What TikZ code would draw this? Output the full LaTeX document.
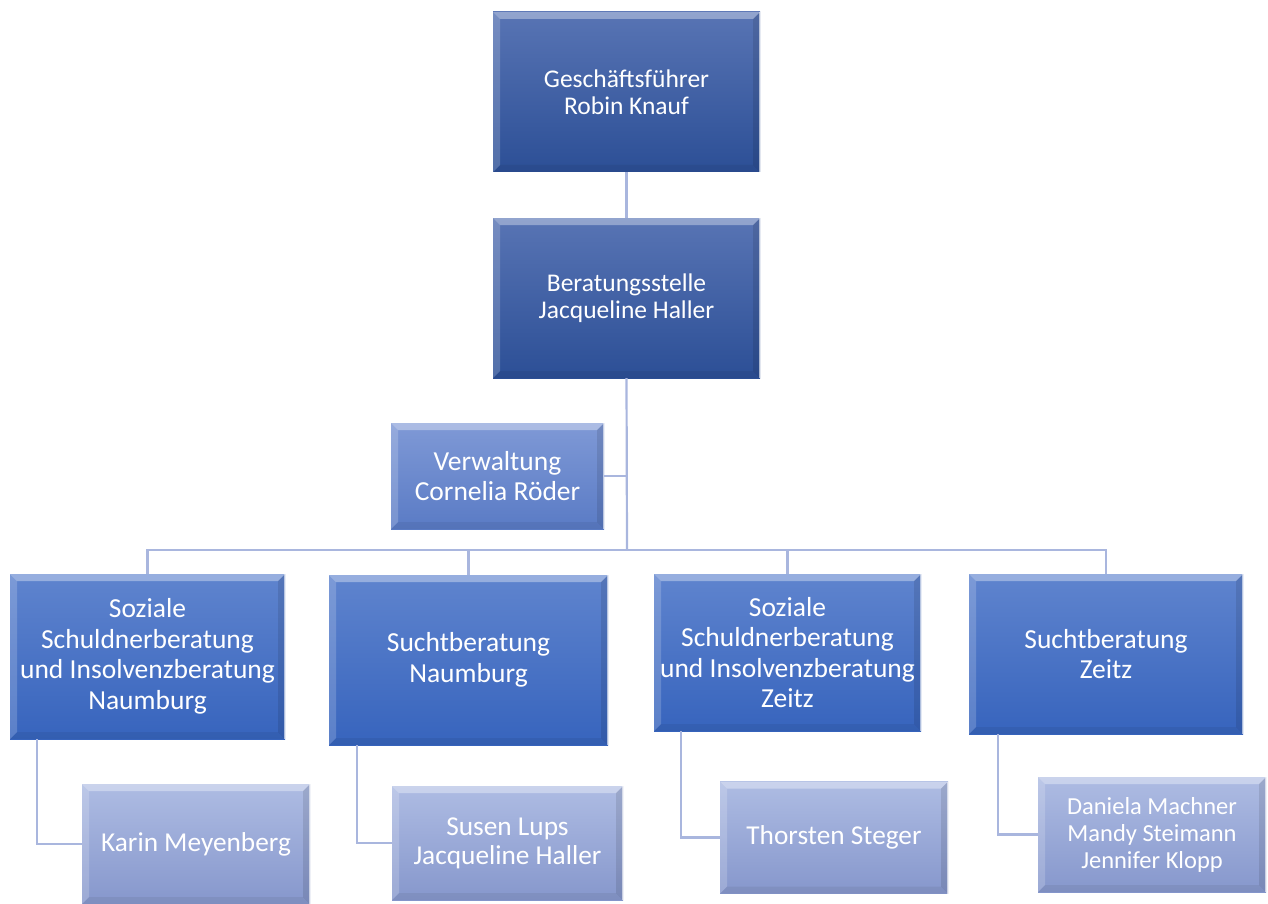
\documentclass[tikz,border=0pt]{standalone}
\usepackage{fontspec}
\setmainfont{Carlito}
\begin{document}
\begin{tikzpicture}[x=1pt,y=-1pt,
  conn/.style={draw=connc,line width=2.2pt},
  bevel/.style={path picture={
    \fill[white,opacity=0.35] (path picture bounding box.north west) -- (path picture bounding box.north east) -- ([xshift=-7pt,yshift=-7pt]path picture bounding box.north east) -- ([xshift=7pt,yshift=-7pt]path picture bounding box.north west) -- cycle;
    \fill[white,opacity=0.18] (path picture bounding box.north west) -- ([xshift=7pt,yshift=-7pt]path picture bounding box.north west) -- ([xshift=7pt,yshift=7pt]path picture bounding box.south west) -- (path picture bounding box.south west) -- cycle;
    \fill[black,opacity=0.10] (path picture bounding box.north east) -- ([xshift=-7pt,yshift=-7pt]path picture bounding box.north east) -- ([xshift=-7pt,yshift=7pt]path picture bounding box.south east) -- (path picture bounding box.south east) -- cycle;
    \fill[black,opacity=0.06] (path picture bounding box.south west) -- ([xshift=7pt,yshift=7pt]path picture bounding box.south west) -- ([xshift=-7pt,yshift=7pt]path picture bounding box.south east) -- (path picture bounding box.south east) -- cycle;
    \draw[white,opacity=0.6,line width=1.2pt] ([xshift=-0.6pt]path picture bounding box.north east) -- ([xshift=-0.6pt]path picture bounding box.south east);
  }},
  bx/.style={rectangle,inner sep=0pt,align=center,text=white,bevel},
  lvA/.style={bx,top color=topA,bottom color=botA,font=\fontsize{25.5}{27}\selectfont},
  lvV/.style={bx,top color=topV,bottom color=botV,font=\fontsize{27.5}{30}\selectfont},
  lvB/.style={bx,top color=topB,bottom color=botB,font=\fontsize{27.5}{30.5}\selectfont},
  lvC/.style={bx,top color=topC,bottom color=botC,font=\fontsize{27.3}{29}\selectfont},
]
\definecolor{connc}{HTML}{A9B6DE}
\definecolor{topA}{HTML}{5874B4}
\definecolor{botA}{HTML}{2C4F96}
\definecolor{topV}{HTML}{7F99D6}
\definecolor{botV}{HTML}{5A7BC5}
\definecolor{topB}{HTML}{5F84CE}
\definecolor{botB}{HTML}{3764BD}
\definecolor{topC}{HTML}{AEBCE3}
\definecolor{botC}{HTML}{8697CC}
\useasboundingbox (0,0) rectangle (1268,904);

\node[lvA,minimum width=267pt,minimum height=160pt] (gf) at (626.5,92) {Geschäftsführer\\Robin Knauf};
\node[lvA,minimum width=267pt,minimum height=160pt] (bs) at (626.5,298) {Beratungsstelle\\Jacqueline Haller};
\node[lvV,minimum width=213pt,minimum height=106pt] (vw) at (497.5,476) {Verwaltung\\Cornelia Röder};
\coordinate (hub) at (627,550);

\node[lvB,minimum width=275pt,minimum height=165pt] (b1) at (147.5,656.5) {Soziale\\Schuldnerberatung\\und Insolvenzberatung\\Naumburg};
\node[lvB,minimum width=279pt,minimum height=170pt] (b2) at (468.5,660) {Suchtberatung\\Naumburg};
\node[lvB,minimum width=267pt,minimum height=157pt] (b3) at (787.5,652.5) {Soziale\\Schuldnerberatung\\und Insolvenzberatung\\Zeitz};
\node[lvB,minimum width=274pt,minimum height=160pt] (b4) at (1106,654) {Suchtberatung\\Zeitz};

\node[lvC,minimum width=228pt,minimum height=120pt] (p1) at (196,844) {Karin Meyenberg};
\node[lvC,minimum width=231pt,minimum height=114pt] (p2) at (507.5,843) {Susen Lups\\Jacqueline Haller};
\node[lvC,minimum width=228pt,minimum height=112pt] (p3) at (834,837.5) {Thorsten Steger};
\node[lvC,minimum width=228pt,minimum height=115pt,font=\fontsize{24.5}{27}\selectfont] (p4) at (1152,834.5) {Daniela Machner\\Mandy Steimann\\Jennifer Klopp};

\draw[conn] (gf.south) -- (bs.north);
\draw[conn] (bs.south) -- (hub);
\draw[conn] (vw.east) -- (vw.east -| hub);
\draw[conn] (b1.north) |- (hub);
\draw[conn] (b2.north) |- (hub);
\draw[conn] (b3.north) |- (hub);
\draw[conn] (b4.north) |- (hub);
\draw[conn] ([xshift=27pt]b1.south west) |- (p1.west);
\draw[conn] ([xshift=28pt]b2.south west) |- (p2.west);
\draw[conn] ([xshift=27pt]b3.south west) |- (p3.west);
\draw[conn] ([xshift=29pt]b4.south west) |- (p4.west);
\end{tikzpicture}
\end{document}
